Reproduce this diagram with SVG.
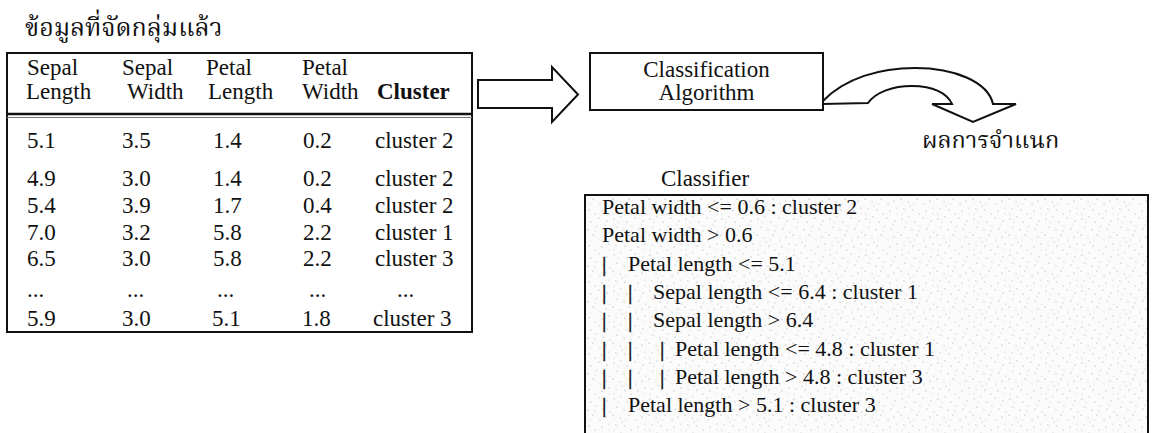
<svg xmlns="http://www.w3.org/2000/svg" width="1154" height="433" viewBox="0 0 1154 433">
  <defs>
    <!-- light stippled shading for the rule box -->
    <pattern id="stipple" width="36" height="36" patternUnits="userSpaceOnUse">
      <rect width="36" height="36" fill="#fbfbfb"/>
      <g fill="#a0a0a0">
        <circle cx="2" cy="3" r="0.6"/><circle cx="9" cy="1" r="0.5"/><circle cx="15" cy="6" r="0.6"/>
        <circle cx="23" cy="2" r="0.5"/><circle cx="31" cy="5" r="0.6"/><circle cx="5" cy="11" r="0.5"/>
        <circle cx="12" cy="14" r="0.6"/><circle cx="20" cy="10" r="0.5"/><circle cx="27" cy="13" r="0.6"/>
        <circle cx="34" cy="16" r="0.5"/><circle cx="1" cy="19" r="0.6"/><circle cx="8" cy="22" r="0.5"/>
        <circle cx="17" cy="19" r="0.6"/><circle cx="24" cy="24" r="0.5"/><circle cx="30" cy="21" r="0.6"/>
        <circle cx="4" cy="29" r="0.5"/><circle cx="13" cy="30" r="0.6"/><circle cx="19" cy="34" r="0.5"/>
        <circle cx="26" cy="31" r="0.6"/><circle cx="33" cy="28" r="0.5"/><circle cx="10" cy="26" r="0.5"/>
      </g>
      <g fill="#c8c8c8">
        <circle cx="6" cy="6" r="0.6"/><circle cx="19" cy="15" r="0.6"/><circle cx="29" cy="9" r="0.6"/>
        <circle cx="14" cy="24" r="0.6"/><circle cx="33" cy="34" r="0.6"/><circle cx="2" cy="34" r="0.6"/>
      </g>
    </pattern>
  </defs>
  <style>
    .t { font-family: "Liberation Serif", "Times New Roman", serif; fill: #111; }
    .tb { font-size: 23px; }
    .cf { font-size: 22px; }
    .b { font-weight: bold; }
    .bar { stroke: #111; stroke-width: 0.5; }
    .th { font-family: "Noto Serif Thai", "Noto Sans Thai Looped", "Noto Sans Thai", "Loma", "Garuda", "DejaVu Sans", "Noto Sans", sans-serif; fill: #111; }
    .box { fill: #fff; stroke: #111; stroke-width: 2; }
    .arrow { fill: #fff; stroke: #111; stroke-width: 2; stroke-linejoin: miter; }
  </style>

  <rect width="1154" height="433" fill="#fff"/>

  <!-- heading above the data table -->
  <g id="title">
    <text class="th" x="25" y="36" font-size="25">ข้อมูลที่จัดกลุ่มแล้ว</text>
  </g>

  <!-- clustered data table -->
  <g id="data-table">
    <rect class="box" x="7" y="53" width="465" height="279"/>
    <line x1="7" y1="114" x2="472" y2="114" stroke="#111" stroke-width="2.5"/>
    <line x1="7" y1="117.5" x2="472" y2="117.5" stroke="#777" stroke-width="1"/>
    <g class="t tb">
      <text x="27" y="75">Sepal</text>
      <text x="122" y="75">Sepal</text>
      <text x="206" y="75">Petal</text>
      <text x="302" y="75">Petal</text>
      <text x="26" y="99">Length</text>
      <text x="127" y="99">Width</text>
      <text x="208" y="99">Length</text>
      <text x="302" y="99">Width</text>
      <text x="377" y="99" class="b">Cluster</text>

      <text x="27" y="148">5.1</text><text x="122" y="148">3.5</text><text x="213" y="148">1.4</text><text x="303" y="148">0.2</text><text x="375" y="148">cluster 2</text>
      <text x="27" y="186">4.9</text><text x="122" y="186">3.0</text><text x="213" y="186">1.4</text><text x="303" y="186">0.2</text><text x="375" y="186">cluster 2</text>
      <text x="27" y="213">5.4</text><text x="122" y="213">3.9</text><text x="213" y="213">1.7</text><text x="303" y="213">0.4</text><text x="375" y="213">cluster 2</text>
      <text x="27" y="240">7.0</text><text x="122" y="240">3.2</text><text x="213" y="240">5.8</text><text x="303" y="240">2.2</text><text x="375" y="240">cluster 1</text>
      <text x="27" y="266">6.5</text><text x="122" y="266">3.0</text><text x="213" y="266">5.8</text><text x="303" y="266">2.2</text><text x="375" y="266">cluster 3</text>
      <text x="27" y="297">...</text><text x="127" y="297">...</text><text x="217" y="297">...</text><text x="309" y="297">...</text><text x="397" y="297">...</text>
      <text x="27" y="326">5.9</text><text x="122" y="326">3.0</text><text x="212" y="326">5.1</text><text x="302" y="326">1.8</text><text x="373" y="326">cluster 3</text>
    </g>
  </g>

  <!-- algorithm box -->
  <g id="algorithm">
    <rect class="box" x="590" y="53" width="233" height="57"/>
    <text class="t tb" x="706.5" y="77" text-anchor="middle">Classification</text>
    <text class="t tb" x="706.5" y="100" text-anchor="middle">Algorithm</text>
  </g>

  <!-- connectors: block arrow into the algorithm, curved arrow out of it -->
  <g id="connectors">
    <polygon class="arrow" points="478,80 552,80 552,67 578,94.5 552,122 552,108 478,108"/>
    <path class="arrow" d="M823,101 C845,78 880,68 915,68 C955,68 988,82 993,104 L1016,104 L973,122 L932,104 L952,104 C947,93 933,86 912,86 C893,86 876,92 868,103 L823,104 Z"/>
  </g>

  <!-- result label -->
  <g id="result-label">
    <text class="th" x="922" y="148" font-size="23.5">ผลการจำแนก</text>
  </g>

  <!-- classifier rules -->
  <g id="classifier">
    <text class="t tb" x="705" y="186" text-anchor="middle">Classifier</text>
    <rect x="585" y="195" width="563" height="260" fill="url(#stipple)" stroke="#111" stroke-width="2"/>
    <g class="t cf">
      <text x="602" y="214">Petal width &lt;= 0.6 : cluster 2</text>
      <text x="602" y="242">Petal width &gt; 0.6</text>
      <text y="271"><tspan class="bar" x="602">|</tspan><tspan x="628">Petal length &lt;= 5.1</tspan></text>
      <text y="299"><tspan class="bar" x="602">|</tspan><tspan class="bar" x="628">|</tspan><tspan x="653">Sepal length &lt;= 6.4 : cluster 1</tspan></text>
      <text y="327"><tspan class="bar" x="602">|</tspan><tspan class="bar" x="628">|</tspan><tspan x="653">Sepal length &gt; 6.4</tspan></text>
      <text y="356"><tspan class="bar" x="602">|</tspan><tspan class="bar" x="628">|</tspan><tspan class="bar" x="660">|</tspan><tspan x="675">Petal length &lt;= 4.8 : cluster 1</tspan></text>
      <text y="384"><tspan class="bar" x="602">|</tspan><tspan class="bar" x="628">|</tspan><tspan class="bar" x="660">|</tspan><tspan x="675">Petal length &gt; 4.8 : cluster 3</tspan></text>
      <text y="412"><tspan class="bar" x="602">|</tspan><tspan x="628">Petal length &gt; 5.1 : cluster 3</tspan></text>
    </g>
  </g>
</svg>
